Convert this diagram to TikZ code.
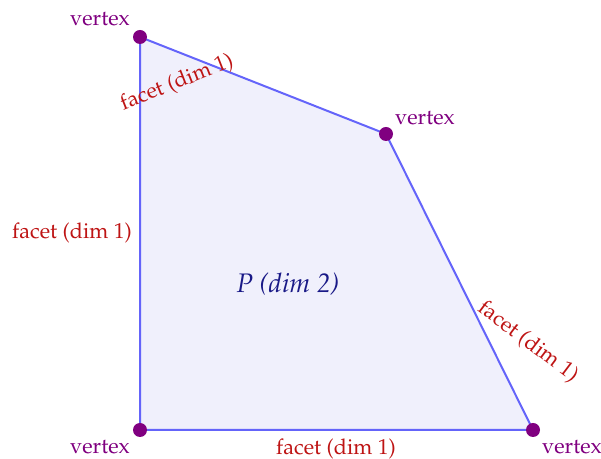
\documentclass[tikz,border=0pt]{standalone}
\usepackage[T1]{fontenc}
\usepackage{mathpazo}
\usepackage{tikz}
\usepackage{xcolor}
\definecolor{edgeblue}{RGB}{100,100,250}
\definecolor{polyfill}{RGB}{240,240,252}
\definecolor{vtxpurple}{RGB}{128,0,128}
\definecolor{facetred}{RGB}{190,20,20}
\definecolor{polynavy}{RGB}{25,25,135}
\begin{document}
\begin{tikzpicture}[x=0.5pt,y=-0.5pt,
  vtx/.style={circle,fill=vtxpurple,inner sep=0pt,minimum size=7pt},
  vlabel/.style={text=vtxpurple,font=\fontsize{10.8}{13}\selectfont},
  flabel/.style={text=facetred,font=\fontsize{10.8}{13}\selectfont}]
  \useasboundingbox (0,0) rectangle (601,459);
  \coordinate (A) at (140,37); \coordinate (B) at (386,134); \coordinate (C) at (533,430); \coordinate (D) at (140,430);
  \filldraw[fill=polyfill,draw=edgeblue,line width=1pt] (A) -- (B) -- (C) -- (D) -- cycle;
  \node[vtx] (vA) at (A) {}; \node[vtx] (vB) at (B) {}; \node[vtx] (vC) at (C) {}; \node[vtx] (vD) at (D) {};
  \node[vlabel] (lA) at (100,19) {vertex}; \node[vlabel] (lB) at (425,118) {vertex};
  \node[vlabel] (lC) at (572,447) {vertex}; \node[vlabel] (lD) at (100,447) {vertex};
  \node[flabel,rotate=21.5] (fAB) at (177,83) {facet (dim 1)};
  \node[flabel,rotate=-37] (fBC) at (528,342) {facet (dim 1)};
  \node[flabel] (fCD) at (336,449) {facet (dim 1)};
  \node[flabel] (fDA) at (72,233) {facet (dim 1)};
  \node[text=polynavy,font=\fontsize{13.4}{16}\selectfont\itshape] (P) at (288,284) {P (dim 2)};
\end{tikzpicture}
\end{document}
